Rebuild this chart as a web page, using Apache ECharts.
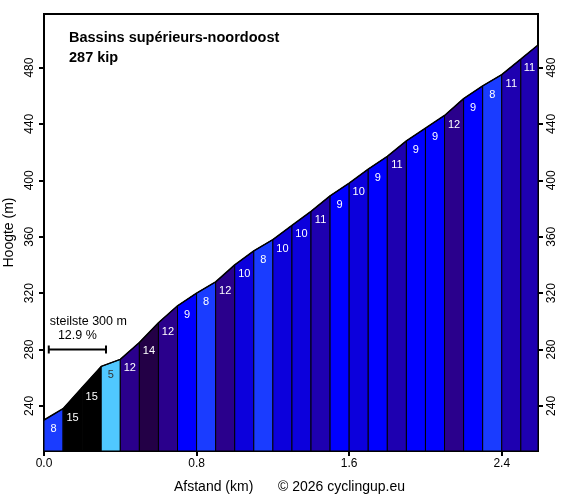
<!DOCTYPE html>
<html>
<head>
<meta charset="utf-8">
<script src="https://cdn.jsdelivr.net/npm/echarts@6/dist/echarts.min.js"></script>
<style>
html, body { margin: 0; padding: 0; background: #fff; }
#chart { width: 578px; height: 498px; }
</style>
</head>
<body>
<div id="chart"></div>
<script>
// segment boundaries (km) and elevation at each boundary (m)
var distances = [0, 0.1, 0.2, 0.3, 0.4, 0.5, 0.6, 0.7, 0.8, 0.9, 1.0, 1.1, 1.2, 1.3, 1.4, 1.5, 1.6, 1.7, 1.8, 1.9, 2.0, 2.1, 2.2, 2.3, 2.4, 2.5, 2.59];
var elevations = [230, 238, 253, 268, 273, 285, 299, 311, 320, 328, 340, 350, 358, 368, 378, 389, 398, 408, 417, 428, 437, 446, 458, 467, 475, 486, 496];
// gradient (%) per segment
var grades = [8, 15, 15, 5, 12, 14, 12, 9, 8, 12, 10, 8, 10, 10, 11, 9, 10, 9, 11, 9, 9, 12, 9, 8, 11, 11];
var yTicks = [240, 280, 320, 360, 400, 440, 480];

var steep = { from: 0.025, to: 0.325, elev: 280, label: 'steilste 300 m', pct: '12.9 %' };

var gradeColors = {
    5: '#50c8ff',
    8: '#1a3cff',
    9: '#0000ff',
    10: '#0c00dc',
    11: '#1e00b0',
    12: '#2a008c',
    14: '#230046',
    15: '#000000'
};

var yMin = 208, yMax = 518;
var font = "'Liberation Sans', Arial, sans-serif";

var segData = grades.map(function (g, i) {
    return [distances[i], distances[i + 1], elevations[i], elevations[i + 1], g];
});

var myChart = echarts.init(document.getElementById('chart'));

myChart.setOption({
    animation: false,
    grid: {
        left: 44, right: 40, top: 14, bottom: 47,
        outerBoundsMode: 'none', containLabel: false,
        show: true, borderColor: '#000', borderWidth: 2, backgroundColor: 'transparent'
    },
    xAxis: {
        type: 'value', min: 0, max: 2.59, interval: 0.8,
        axisLine: { show: true, lineStyle: { color: '#000', width: 2 } },
        axisTick: { show: true, length: 5, lineStyle: { color: '#000', width: 2 } },
        axisLabel: {
            showMaxLabel: false, color: '#000', fontFamily: font, fontSize: 12, margin: 7,
            formatter: function (v) { return v.toFixed(1); }
        },
        splitLine: { show: false }
    },
    yAxis: [{
        type: 'value', min: yMin, max: yMax, position: 'left',
        name: 'Hoogte (m)', nameLocation: 'middle', nameGap: 24,
        nameTextStyle: { color: '#000', fontFamily: font, fontSize: 14 },
        axisLine: { show: true, lineStyle: { color: '#000', width: 2 } },
        axisTick: { show: true, length: 5, customValues: yTicks, lineStyle: { color: '#000', width: 2 } },
        axisLabel: { customValues: yTicks, rotate: 90, color: '#000', fontFamily: font, fontSize: 12, margin: 8 },
        splitLine: { show: false }
    }, {
        type: 'value', min: yMin, max: yMax, position: 'right',
        axisLine: { show: true, lineStyle: { color: '#000', width: 2 } },
        axisTick: { show: true, length: 5, customValues: yTicks, lineStyle: { color: '#000', width: 2 } },
        axisLabel: { customValues: yTicks, rotate: 90, color: '#000', fontFamily: font, fontSize: 12, margin: 8 },
        splitLine: { show: false }
    }],
    graphic: [{
        type: 'text', left: 69, top: 28,
        style: { text: 'Bassins supérieurs-noordoost\n287 kip', fill: '#000', font: 'bold 14.5px ' + font, lineHeight: 20 }
    }, {
        type: 'text', left: 174, top: 480,
        style: { text: 'Afstand (km)', fill: '#000', font: '14px ' + font }
    }, {
        type: 'text', left: 278, top: 480,
        style: { text: '© 2026 cyclingup.eu', fill: '#000', font: '14px ' + font }
    }],
    series: [{
        type: 'custom',
        data: segData,
        clip: true,
        renderItem: function (params, api) {
            var x0 = api.value(0), x1 = api.value(1), e0 = api.value(2), e1 = api.value(3), g = api.value(4);
            var p0 = api.coord([x0, e0]);
            var p1 = api.coord([x1, e1]);
            var base = api.coord([x0, yMin])[1];
            return {
                type: 'group',
                children: [{
                    type: 'polygon',
                    shape: { points: [[p0[0], base], p0, p1, [p1[0], base]] },
                    style: { fill: gradeColors[g] || '#0000ff', stroke: '#000', lineWidth: 1 }
                }, {
                    type: 'text',
                    x: (p0[0] + p1[0]) / 2, y: p0[1] + 9,
                    style: {
                        text: String(g), fill: g <= 5 ? '#333' : '#fff',
                        font: '11px ' + font, align: 'center', verticalAlign: 'middle'
                    }
                }]
            };
        },
        z: 2
    }, {
        type: 'line',
        data: distances.map(function (d, i) { return [d, elevations[i]]; }),
        showSymbol: false,
        lineStyle: { color: '#000', width: 1.5 },
        z: 3
    }, {
        type: 'custom',
        data: [[steep.from, steep.to, steep.elev]],
        renderItem: function (params, api) {
            var a = api.coord([api.value(0), api.value(2)]);
            var b = api.coord([api.value(1), api.value(2)]);
            return {
                type: 'group',
                children: [
                    { type: 'line', shape: { x1: a[0], y1: a[1], x2: b[0], y2: b[1] }, style: { stroke: '#000', lineWidth: 2 } },
                    { type: 'line', shape: { x1: a[0], y1: a[1] - 4, x2: a[0], y2: a[1] + 4 }, style: { stroke: '#000', lineWidth: 2 } },
                    { type: 'line', shape: { x1: b[0], y1: b[1] - 4, x2: b[0], y2: b[1] + 4 }, style: { stroke: '#000', lineWidth: 2 } },
                    { type: 'text', x: a[0] + 1, y: a[1] - 28, style: { text: steep.label, fill: '#000', font: '12.5px ' + font, align: 'left', verticalAlign: 'middle' } },
                    { type: 'text', x: (a[0] + b[0]) / 2, y: a[1] - 14, style: { text: steep.pct, fill: '#000', font: '12.5px ' + font, align: 'center', verticalAlign: 'middle' } }
                ]
            };
        },
        z: 4
    }]
});
</script>
</body>
</html>
